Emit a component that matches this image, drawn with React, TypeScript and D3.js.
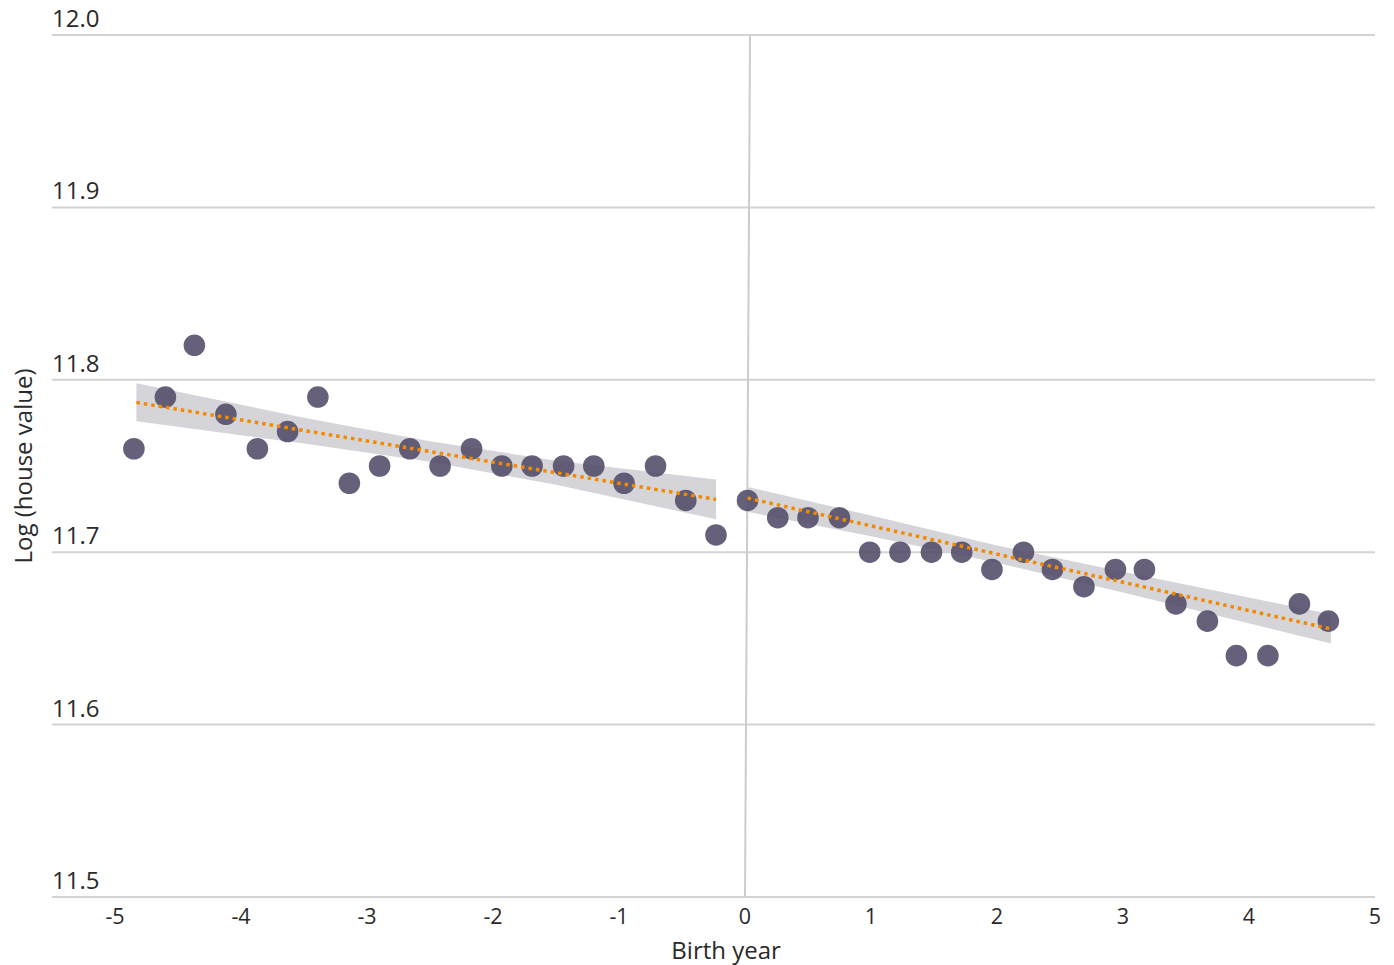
import * as d3 from "d3";

const birthYear = [
  -4.85, -4.6, -4.37, -4.12, -3.87, -3.63, -3.39, -3.14, -2.9, -2.66,
  -2.42, -2.17, -1.93, -1.69, -1.44, -1.2, -0.96, -0.71, -0.47, -0.23,
  0.02, 0.26, 0.5, 0.75, 0.99, 1.23, 1.48, 1.72, 1.96, 2.21,
  2.44, 2.69, 2.94, 3.17, 3.42, 3.67, 3.9, 4.15, 4.4, 4.63,
];
const logValue = [
  11.76, 11.79, 11.82, 11.78, 11.76, 11.77, 11.79, 11.74, 11.75, 11.76,
  11.75, 11.76, 11.75, 11.75, 11.75, 11.75, 11.74, 11.75, 11.73, 11.71,
  11.73, 11.72, 11.72, 11.72, 11.7, 11.7, 11.7, 11.7, 11.69, 11.7,
  11.69, 11.68, 11.69, 11.69, 11.67, 11.66, 11.64, 11.64, 11.67, 11.66,
];

// fitted lines + confidence bands, left and right of the cutoff
const leftBandX = [-4.83, -3.5, -2.5, -1.5, -0.23];
const leftFit = [11.7869, 11.7706, 11.7584, 11.7461, 11.7306];
const leftHi = [11.798, 11.778, 11.7644, 11.7531, 11.7421];
const leftLo = [11.776, 11.763, 11.7524, 11.7391, 11.7191];

const rightBandX = [0.02, 1.0, 2.0, 3.0, 4.65];
const rightFit = [11.7314, 11.7153, 11.6989, 11.6826, 11.6555];
const rightHi = [11.7378, 11.7213, 11.7039, 11.6886, 11.664];
const rightLo = [11.7234, 11.7093, 11.6939, 11.6766, 11.647];

const xTicks = [-5, -4, -3, -2, -1, 0, 1, 2, 3, 4, 5];
const yTicks = [11.5, 11.6, 11.7, 11.8, 11.9, 12.0];

const cutoffLine = [
  { x: 0.04, y: 12.0 },
  { x: 0, y: 11.5 },
];

const width = 1394;
const height = 965;
const margin = { top: 35, right: 19, bottom: 68, left: 52 };
const innerWidth = width - margin.left - margin.right;
const innerHeight = height - margin.top - margin.bottom;

const font = "'Open Sans', 'Liberation Sans', sans-serif";

export default function App() {
  const xScale = d3.scaleLinear().domain([-5.5, 5]).range([0, innerWidth]);
  const yScale = d3.scaleLinear().domain([11.5, 12.0]).range([innerHeight, 0]);

  const band = (xs: number[], lo: number[], hi: number[]) =>
    d3
      .area<number>()
      .x((d) => xScale(d))
      .y0((d, i) => yScale(lo[i]))
      .y1((d, i) => yScale(hi[i]))(xs);

  const fitLine = (xs: number[], ys: number[]) =>
    d3
      .line<number>()
      .x((d) => xScale(d))
      .y((d, i) => yScale(ys[i]))(xs);

  const vline = d3
    .line<{ x: number; y: number }>()
    .x((d) => xScale(d.x))
    .y((d) => yScale(d.y))(cutoffLine);

  return (
    <svg
      width={width}
      height={height}
      style={{ position: "absolute", left: 0, top: 0, fontFamily: font }}
    >
      <g transform={`translate(${margin.left},${margin.top})`}>
        {yTicks.map((t) => (
          <g key={t} transform={`translate(0,${yScale(t)})`}>
            <line x1={0} x2={innerWidth} stroke="#d3d3d3" strokeWidth={2} />
            <text x={0} y={-8} fontSize={24} fill="#2a2a2a">
              {t.toFixed(1)}
            </text>
          </g>
        ))}
        {xTicks.map((t) => (
          <text
            key={t}
            x={xScale(t)}
            y={innerHeight + 27}
            textAnchor="middle"
            fontSize={21.5}
            fill="#2a2a2a"
          >
            {t}
          </text>
        ))}
        <path d={vline ?? ""} stroke="#cccccc" strokeWidth={2} fill="none" />

        <path d={band(leftBandX, leftLo, leftHi) ?? ""} fill="#d5d4d9" />
        <path d={band(rightBandX, rightLo, rightHi) ?? ""} fill="#d5d4d9" />

        {birthYear.map((x, i) => (
          <circle
            key={i}
            cx={xScale(x)}
            cy={yScale(logValue[i])}
            r={10.8}
            fill="#4f4866"
            fillOpacity={0.87}
          />
        ))}

        <path
          d={fitLine(leftBandX, leftFit) ?? ""}
          stroke="#f28a00"
          strokeWidth={3.5}
          strokeDasharray="3.5 4"
          fill="none"
        />
        <path
          d={fitLine(rightBandX, rightFit) ?? ""}
          stroke="#f28a00"
          strokeWidth={3.5}
          strokeDasharray="3.5 4"
          fill="none"
        />

        <text
          x={xScale(-0.15)}
          y={innerHeight + 62}
          textAnchor="middle"
          fontSize={24}
          fill="#2a2a2a"
        >
          Birth year
        </text>
      </g>
      <text
        transform={`translate(32,${466}) rotate(-90)`}
        textAnchor="middle"
        fontSize={24}
        fill="#2a2a2a"
      >
        Log (house value)
      </text>
    </svg>
  );
}
